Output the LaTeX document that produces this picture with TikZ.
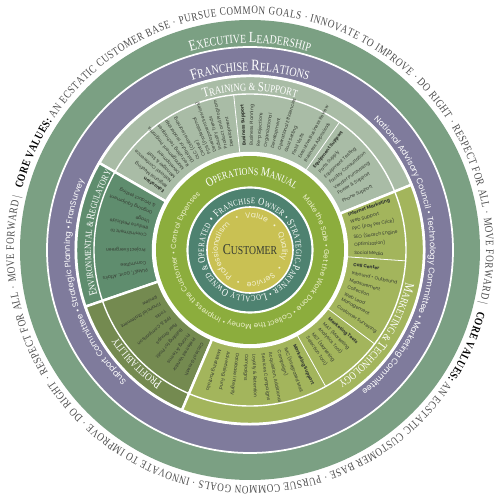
\documentclass[tikz,border=0pt]{standalone}
\usepackage{fontspec}
\newfontfamily\capsfam[FakeStretch=0.8]{Liberation Serif}
\newfontfamily\gothic{Poppins}
\usetikzlibrary{decorations.text}

\definecolor{execgreen}{HTML}{7BA083}
\definecolor{relpurple}{HTML}{7F7B9C}
\definecolor{trainfill}{HTML}{A9BCA6}
\definecolor{envfill}{HTML}{5F8D6E}
\definecolor{profitfill}{HTML}{748A50}
\definecolor{marketfill}{HTML}{A3B55C}
\definecolor{opsgreen}{HTML}{8CAD3D}
\definecolor{ownerteal}{HTML}{4E8270}
\definecolor{custyellow}{HTML}{C9C153}
\definecolor{inktext}{HTML}{353B32}
\definecolor{valuegray}{HTML}{4D4D4D}
\definecolor{paletext}{HTML}{EDF0CC}
\definecolor{creamtext}{HTML}{F3F0D2}

\newcommand\wcs[1]{\capsfam\fontsize{#1}{#1}\selectfont\color{white}}
\newcommand\vcs[1]{\capsfam\mdseries\fontsize{#1}{#1}\selectfont\color{valuegray}}
\newcommand\kcs[1]{\capsfam\bfseries\fontsize{#1}{#1}\selectfont\color{black}}
\newcommand\wsans[1]{\gothic\fontsize{#1}{#1}\selectfont\color{white}}
\newcommand\psans[1]{\gothic\fontsize{#1}{#1}\selectfont\color{paletext}}
\newcommand\csans[1]{\gothic\fontsize{#1}{#1}\selectfont\color{creamtext}}

\begin{document}
\begin{tikzpicture}[x=0.02cm, y=0.02cm,
  ringlabel/.style={decorate, decoration={text along path, text align=center, text={#1}}},
  ringfit/.style={decorate, decoration={text along path, text align={fit to path}, text={#1}}},
  ringspread/.style={decorate, decoration={text along path, text align={fit to path stretching spaces}, text={#1}}},
  sector/.style={draw=white, line width=1.4pt},
  divider/.style={draw=white, line width=0.45pt},
  spoke/.style={anchor=west, inner sep=0pt, text=inktext, font=\gothic\fontsize{2.6}{3}\selectfont},
  head/.style={spoke, font=\gothic\bfseries\fontsize{2.6}{3}\selectfont}
]
\useasboundingbox (-250,-250) rectangle (250,250);
\fill[white] (-250,-250) rectangle (250,250);

% ---------- outer rings ----------
\fill[execgreen] (0,0) circle[radius=230];
\filldraw[fill=relpurple, draw=white, line width=1pt] (0,0) circle[radius=203];
\fill[white] (0,0) circle[radius=175.5];

% ---------- sectors ----------
\path[sector, fill=trainfill] (22:97) arc[start angle=22, end angle=150, radius=97]
  -- (150:174) arc[start angle=150, end angle=22, radius=174] -- cycle;
\path[sector, fill=envfill] (150:97) arc[start angle=150, end angle=199, radius=97]
  -- (199:174) arc[start angle=199, end angle=150, radius=174] -- cycle;
\path[sector, fill=profitfill] (199:97) arc[start angle=199, end angle=247, radius=97]
  -- (247:174) arc[start angle=247, end angle=199, radius=174] -- cycle;
\path[sector, fill=marketfill] (-113:97) arc[start angle=-113, end angle=22, radius=97]
  -- (22:174) arc[start angle=22, end angle=-113, radius=174] -- cycle;
\draw[white, line width=0.8pt] (0,0) circle[radius=156];
\draw[divider] (96:98) -- (96:156);
\draw[divider] (55:98) -- (55:156);
\draw[divider] (-4:98) -- (-4:156);
\draw[divider] (-37:98) -- (-37:156);
\draw[divider] (-61:98) -- (-61:156);

% ---------- inner rings ----------
\fill[opsgreen] (0,0) circle[radius=94];
\filldraw[fill=ownerteal, draw=white, line width=1.2pt] (0,0) circle[radius=62.5];
\filldraw[fill=custyellow, draw=white, line width=0.9pt] (0,0) circle[radius=43];
\node[text=inktext] (cust) at (0,0) {\capsfam\fontsize{8.6}{9}\selectfont C\fontsize{6.9}{7}\selectfont USTOMER};

% ---------- ring texts ----------
\path[decorate, decoration={text along path, text format delimiters={[}{]}, text align={fit to path},
  text={[\kcs{6.5}]CORE VALUES:[\vcs{6.5}] AN ECSTATIC CUSTOMER BASE · PURSUE COMMON GOALS · INNOVATE TO IMPROVE · DO RIGHT · RESPECT FOR ALL · MOVE FORWARD |}}]
  (165:236) arc[start angle=165, end angle=-13, radius=236];
\path[decorate, decoration={text along path, text format delimiters={[}{]}, text align={fit to path},
  text={[\kcs{6.5}]CORE VALUES:[\vcs{6.5}] AN ECSTATIC CUSTOMER BASE · PURSUE COMMON GOALS · INNOVATE TO IMPROVE · DO RIGHT · RESPECT FOR ALL · MOVE FORWARD |}}]
  (-15:236) arc[start angle=-15, end angle=-193, radius=236];
\path[ringlabel={|\wcs{8.8}|E|\wcs{7}|XECUTIVE |\wcs{8.8}|L|\wcs{7}|EADERSHIP}]
  (180:207) arc[start angle=180, end angle=0, radius=207];
\path[ringlabel={|\wcs{9}|F|\wcs{7.2}|RANCHISE |\wcs{9}|R|\wcs{7.2}|ELATIONS}]
  (180:179) arc[start angle=180, end angle=0, radius=179];
\path[ringlabel={|\wsans{4.7}|National Advisory Council • Technology Committee • Marketing Committee}]
  (87.5:180) arc[start angle=87.5, end angle=-92.5, radius=180];
\path[ringlabel={|\wsans{4.7}|Support Committee • Strategic Planning • FranSurvey}]
  (282:180) arc[start angle=282, end angle=102, radius=180];

% ---------- sector labels ----------
\path[ringlabel={|\wcs{7.8}|T|\wcs{6.2}|RAINING {\&} |\wcs{7.8}|S|\wcs{6.2}|UPPORT}]
  (180:159) arc[start angle=180, end angle=0, radius=159];
\path[ringlabel={|\wcs{6.6}|E|\wcs{5.3}|NVIRONMENTAL {\&} |\wcs{6.6}|R|\wcs{5.3}|EGULATORY}]
  (263.5:159) arc[start angle=263.5, end angle=83.5, radius=159];
\path[ringlabel={|\wcs{7.6}|P|\wcs{6.1}|ROFITABILITY}]
  (315:159) arc[start angle=315, end angle=135, radius=159];
\path[ringlabel={|\wcs{7.6}|M|\wcs{6.1}|ARKETING {\&} |\wcs{7.6}|T|\wcs{6.1}|ECHNOLOGY}]
  (56:159) arc[start angle=56, end angle=-124, radius=159];

% ---------- inner ring texts ----------
\path[ringlabel={|\wcs{7.2}|O|\wcs{5.8}|PERATIONS |\wcs{7.2}|M|\wcs{5.8}|ANUAL}]
  (178.5:75) arc[start angle=178.5, end angle=-1.5, radius=75];
\path[ringspread={|\psans{4.1}|Make the Sale • Get the Work Done • Collect the Money • Impress the Customer • Control Expenses}]
  (45:74) arc[start angle=45, end angle=-228, radius=74];
\path[ringfit={|\wcs{6}|• F|\wcs{4.8}|RANCHISE |\wcs{6}|O|\wcs{4.8}|WNER • |\wcs{6}|S|\wcs{4.8}|TRATEGIC-|\wcs{6}|P|\wcs{4.8}|ARTNER • |\wcs{6}|L|\wcs{4.8}|OCALLY |\wcs{6}|O|\wcs{4.8}|WNED {\&} |\wcs{6}|O|\wcs{4.8}|PERATED}]
  (143:46) arc[start angle=143, end angle=-213, radius=46];
\path[ringspread={|\csans{4.4}|• Value • Quality • Service • Professionalism}]
  (115:32) arc[start angle=115, end angle=-232, radius=32];

% ---------- training & support ----------
\node[head,rotate=146] (edu1) at (146:104) {Education};
\node[spoke,rotate=142.7] (edu2) at (142.7:104) {Regional Meeting};
\node[spoke,rotate=139.4] (edu3) at (139.4:104) {National Conference};
\node[spoke,rotate=136.1] (edu4) at (136.1:104) {Manager \& Staff};
\node[spoke,rotate=132.8] (edu5) at (132.8:104) {Development};
\node[spoke,rotate=129.5] (edu6) at (129.5:104) {Management Programs};
\node[spoke,rotate=126.2] (edu7) at (126.2:104) {Recruiting Techniques};
\node[spoke,rotate=122.9] (edu8) at (122.9:104) {Distributor Leadership};
\node[spoke,rotate=119.6] (edu9) at (119.6:104) {OLC (Online Learning};
\node[spoke,rotate=116.3] (edu10) at (116.3:104) {Center)};
\node[spoke,rotate=113] (edu11) at (113:104) {PDS (Professional};
\node[spoke,rotate=109.7] (edu12) at (109.7:104) {Development Services)};
\node[spoke,rotate=106.4] (edu13) at (106.4:104) {Industry Trends};
\node[spoke,rotate=103.1] (edu14) at (103.1:104) {Product and Program};
\node[spoke,rotate=99.8] (edu15) at (99.8:104) {Development};
\node[head,rotate=93] (bus1) at (93:104) {Business Support};
\node[spoke,rotate=89.1] (bus2) at (89.1:104) {Business Planning};
\node[spoke,rotate=85.2] (bus3) at (85.2:104) {Re-projections};
\node[spoke,rotate=81.3] (bus4) at (81.3:104) {Organizational};
\node[spoke,rotate=77.4] (bus5) at (77.4:104) {Development};
\node[spoke,rotate=73.5] (bus6) at (73.5:104) {Operational Efficiencies};
\node[spoke,rotate=69.6] (bus7) at (69.6:104) {Goal Setting};
\node[spoke,rotate=65.7] (bus8) at (65.7:104) {Field Visits};
\node[spoke,rotate=61.8] (bus9) at (61.8:104) {Executive Business Review};
\node[spoke,rotate=57.9] (bus10) at (57.9:104) {Business Appraisals};
\node[head,rotate=52] (eqp1) at (52:104) {Equipment Support};
\node[spoke,rotate=48] (eqp2) at (48:104) {Parts Supply};
\node[spoke,rotate=44] (eqp3) at (44:104) {Equipment Testing};
\node[spoke,rotate=40] (eqp4) at (40:104) {Facility Consultation};
\node[spoke,rotate=36] (eqp5) at (36:104) {Vendor Purchasing};
\node[spoke,rotate=32.5] (eqp6) at (32.5:104) {Power \& Support};
\node[spoke,rotate=27.5] (eqp7) at (27.5:104) {Phone Support};

% ---------- marketing & technology ----------
\node[head,rotate=19.5] (int1) at (19.5:104) {Internet Marketing};
\node[spoke,rotate=15.5] (int2) at (15.5:104) {Web Support};
\node[spoke,rotate=11.5] (int3) at (11.5:104) {PPC (Pay Per Click)};
\node[spoke,rotate=7] (int4) at (7:104) {SEO (Search Engine};
\node[spoke,rotate=3] (int5) at (3:104) {Optimization)};
\node[spoke,rotate=-1.5] (int6) at (-1.5:104) {Social Media};
\node[head,rotate=-8] (cal1) at (-8:104) {Call Center};
\node[spoke,rotate=-12.5] (cal2) at (-12.5:104) {Inbound • Outbound};
\node[spoke,rotate=-17] (cal3) at (-17:104) {Measurement};
\node[spoke,rotate=-20.5] (cal4) at (-20.5:104) {Collection};
\node[spoke,rotate=-25] (cal5) at (-25:104) {Web Lead};
\node[spoke,rotate=-28.5] (cal6) at (-28.5:104) {Management};
\node[spoke,rotate=-33] (cal7) at (-33:104) {Customer Surveying};
\node[head,rotate=-41] (mkt1) at (-41:104) {Marketing Tools};
\node[spoke,rotate=-45] (mkt2) at (-45:104) {MAT (Marketing};
\node[spoke,rotate=-48.5] (mkt3) at (-48.5:104) {Analytics Tool)};
\node[spoke,rotate=-53] (mkt4) at (-53:104) {MST (Marketing};
\node[spoke,rotate=-56.5] (mkt5) at (-56.5:104) {Selection Tool)};
\node[head,rotate=-65] (sup1) at (-65:104) {Marketing Support};
\node[spoke,rotate=-70] (sup2) at (-70:104) {IMC (Integrated Mail};
\node[spoke,rotate=-74] (sup3) at (-74:104) {Campaign)};
\node[spoke,rotate=-79] (sup4) at (-79:104) {Acquisition, Additional};
\node[spoke,rotate=-83] (sup5) at (-83:104) {Services Campaigns};
\node[spoke,rotate=-88] (sup6) at (-88:104) {Loyalty \& Retention};
\node[spoke,rotate=-92] (sup7) at (-92:104) {Campaigns};
\node[spoke,rotate=-97] (sup8) at (-97:104) {Database Integrity};
\node[spoke,rotate=-102] (sup9) at (-102:104) {Advertising Fund};
\node[spoke,rotate=-107] (sup10) at (-107:104) {Marketing Portfolio};

% ---------- profitability ----------
\node[spoke,rotate=243] (pro1) at (243:104) {Circle of Growth};
\node[spoke,rotate=238] (pro2) at (238:104) {Preferred Vendor};
\node[spoke,rotate=234] (pro3) at (234:104) {Pricing \& Terms};
\node[spoke,rotate=229] (pro4) at (229:104) {Building for Profit};
\node[spoke,rotate=225] (pro5) at (225:104) {Peer Groups};
\node[spoke,rotate=220] (pro6) at (220:104) {FPR \& Comparison};
\node[spoke,rotate=216] (pro7) at (216:104) {Tools};
\node[spoke,rotate=211] (pro8) at (211:104) {Financial Statement};
\node[spoke,rotate=207] (pro9) at (207:104) {Review};

% ---------- environmental & regulatory ----------
\node[spoke,rotate=191] (env1) at (191:104) {PLANET, Govt. Affairs};
\node[spoke,rotate=187] (env2) at (187:104) {Committee};
\node[spoke,rotate=180] (env3) at (180:104) {Project Evergreen};
\node[spoke,rotate=172] (env4) at (172:104) {Commitment to};
\node[spoke,rotate=168] (env5) at (168:104) {Reduce Pesticide};
\node[spoke,rotate=164] (env6) at (164:104) {Usage};
\node[spoke,rotate=159] (env7) at (159:104) {Ongoing Equipment};
\node[spoke,rotate=155] (env8) at (155:104) {\& Product testing};
\end{tikzpicture}
\end{document}
